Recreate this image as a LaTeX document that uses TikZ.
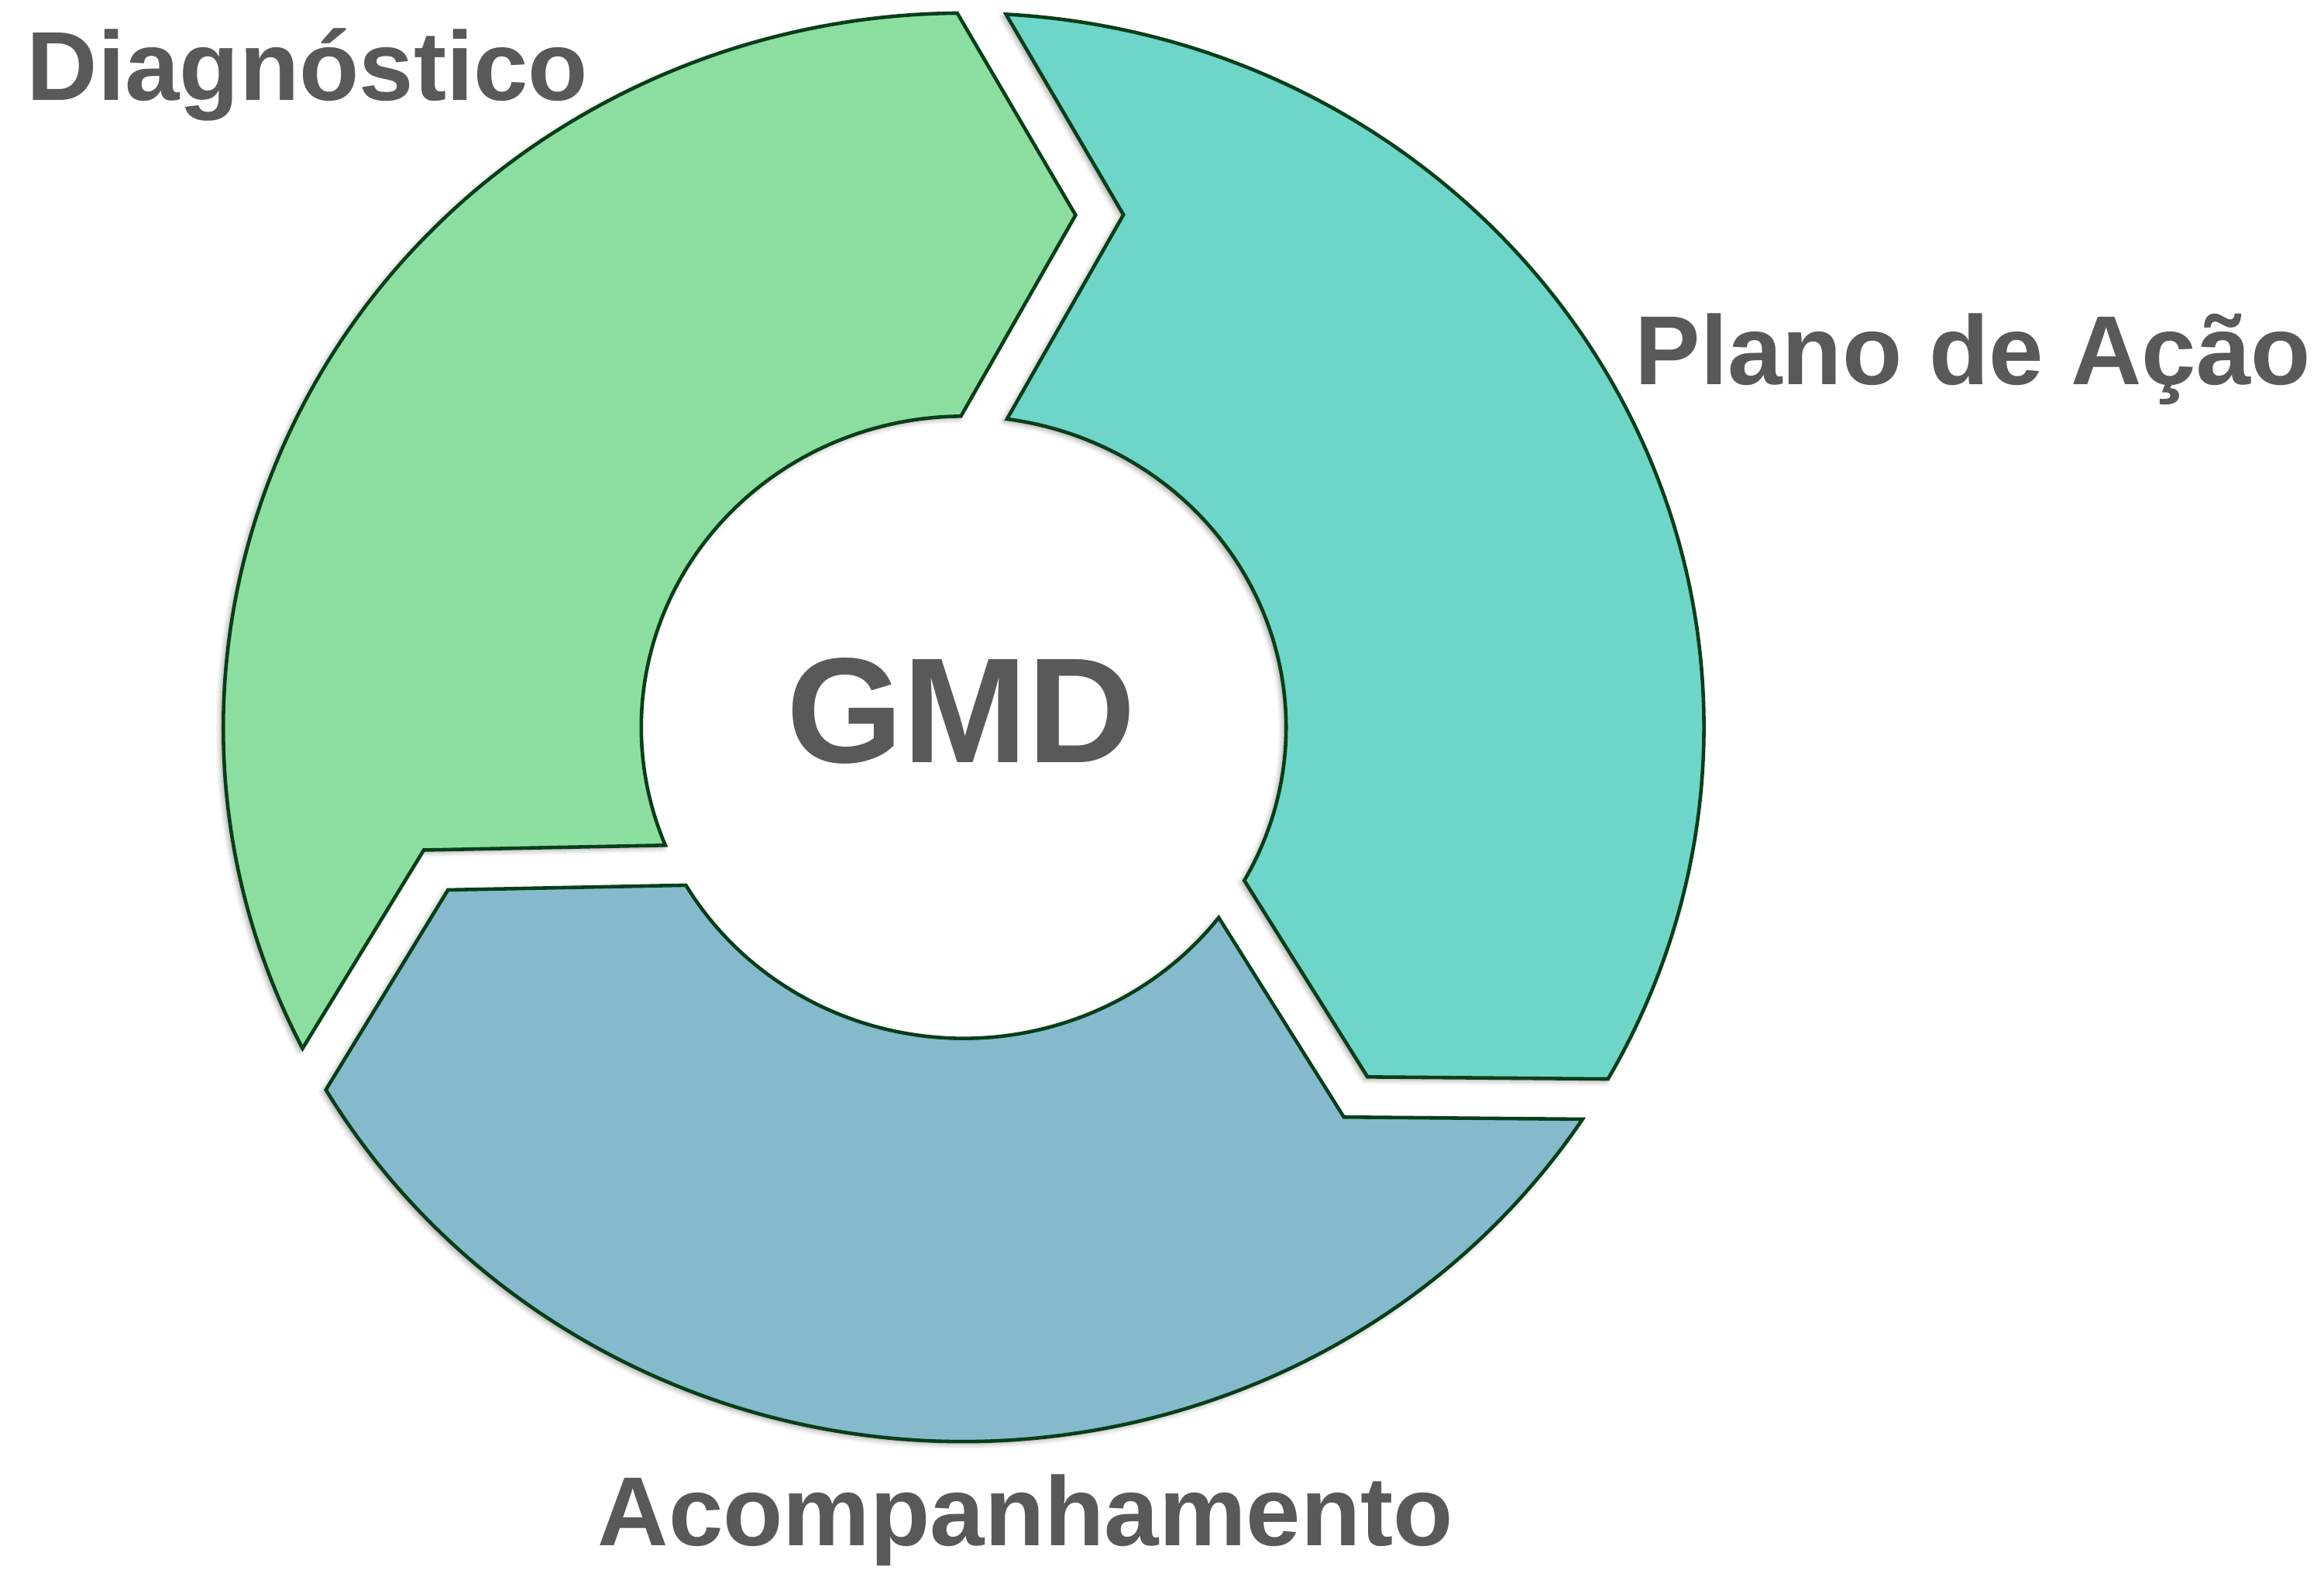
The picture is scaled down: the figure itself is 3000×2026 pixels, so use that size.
\documentclass[tikz,border=0pt]{standalone}
\usepackage{fontspec}
\setmainfont{Liberation Sans}
\usetikzlibrary{shadows.blur}
\definecolor{segGreen}{RGB}{140,222,160}
\definecolor{segTeal}{RGB}{109,214,200}
\definecolor{segBlue}{RGB}{132,186,204}
\definecolor{edgeGreen}{RGB}{8,62,24}
\definecolor{labelGrey}{RGB}{89,89,89}
\tikzset{
  segment/.style={draw=edgeGreen, line width=1.3pt, line join=miter,
    blur shadow={shadow xshift=-0.035cm, shadow yshift=-0.03cm,
      shadow blur radius=0.07cm, shadow opacity=40}},
  lbltext/.style={font=\bfseries\fontsize{36pt}{40pt}\selectfont, text=labelGrey, inner sep=0pt},
  gmdtext/.style={font=\bfseries\fontsize{55pt}{60pt}\selectfont, text=labelGrey, inner sep=0pt}
}
\begin{document}
\begin{tikzpicture}[x=0.01cm,y=0.01cm]
\useasboundingbox (0,0) rectangle (3000,2026);
\begin{scope}[shift={(1244,1087)}, yscale=0.965]
  % Diagnostico segment
  \begin{scope}[rotate=120]
    \path[segment, fill=segGreen] (86.72:9.55cm) arc[start angle=86.72, end angle=-29.5, radius=9.55cm]
      -- (-41.9:7cm) -- (-29.5:4.16cm) arc[start angle=-29.5, end angle=82.28, radius=4.16cm]
      -- (73.26:7.157cm) -- cycle;
  \end{scope}
  % Plano de Acao segment
  \path[segment, fill=segTeal] (86.72:9.55cm) arc[start angle=86.72, end angle=-29.5, radius=9.55cm]
      -- (-41.9:7cm) -- (-29.5:4.16cm) arc[start angle=-29.5, end angle=82.28, radius=4.16cm]
      -- (73.26:7.157cm) -- cycle;
  % Acompanhamento segment
  \begin{scope}[rotate=-120]
    \path[segment, fill=segBlue] (86.72:9.55cm) arc[start angle=86.72, end angle=-29.5, radius=9.55cm]
      -- (-41.9:7cm) -- (-29.5:4.16cm) arc[start angle=-29.5, end angle=82.28, radius=4.16cm]
      -- (73.26:7.157cm) -- cycle;
  \end{scope}
\end{scope}
\node[lbltext, anchor=base west] (diag) at (34,1896) {Diagnóstico};
\node[lbltext, anchor=base west] (plano) at (2110,1529) {Plano de Ação};
\node[lbltext, anchor=base west] (acomp) at (771,31) {Acompanhamento};
\node[gmdtext, anchor=base] (gmd) at (1241,1041) {GMD};
\end{tikzpicture}
\end{document}
